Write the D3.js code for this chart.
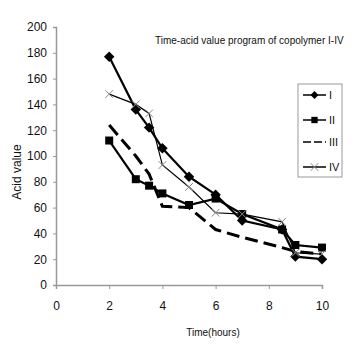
<!DOCTYPE html>
<html>
  <head>
    <meta charset="UTF-8">
    <title>Acid value</title>
    <style>
      body { margin: 0; background: #fff; }
      text { font-family: "Liberation Sans Narrow", "Liberation Sans", Arial, sans-serif; fill: #111; }
    </style>
  </head>
  <body>
    <div id="chart"></div>
    <script src="https://d3js.org/d3.v7.min.js"></script>
    <script>
      // time points (hours) and acid values
      let hours = [2, 3, 3.5, 4, 5, 6, 7, 8.5, 9, 10];
      let seriesI   = [177, 136, 122, 106, 84, 70, 50, 43, 22, 20];
      let seriesII  = [112, 82, 77, 71, 62, 67, 55, 43, 31, 29];
      let seriesIII = [124, 100, 86, 61, 60, 43, 37, 29, 26, 24];
      let seriesIV  = [148, 140, 133, 93, 76, 56, 55, 49, 25, 24];
      let names = ["I", "II", "III", "IV"];
      let xTicks = [0, 2, 4, 6, 8, 10];
      let yTicks = [0, 20, 40, 60, 80, 100, 120, 140, 160, 180, 200];

      let width = 364;
      let height = 360;
      let svg = d3.select("#chart").append("svg").attr("width", width).attr("height", height);

      let x = d3.scaleLinear().domain([0, 10]).range([56, 322]);
      let y = d3.scaleLinear().domain([0, 200]).range([285, 27]);

      // axes
      let yAxis = svg.append("g").attr("transform", "translate(56,0)")
        .call(d3.axisLeft(y).tickValues(yTicks).tickSize(3).tickPadding(6));
      let xAxis = svg.append("g").attr("transform", "translate(0,285)")
        .call(d3.axisBottom(x).tickValues(xTicks).tickSize(4).tickPadding(12));
      [xAxis, yAxis].forEach(function(a) {
        a.select(".domain").attr("stroke", "#999").attr("stroke-width", 1.5);
        a.selectAll(".tick line").attr("stroke", "#999");
        a.selectAll("text").style("font-size", "12px").attr("fill", "#111");
      });

      svg.append("text").attr("x", 213).attr("y", 336).attr("text-anchor", "middle")
        .style("font-size", "10px").text("Time(hours)");
      svg.append("text").attr("transform", "translate(21,172) rotate(-90)").attr("text-anchor", "middle")
        .style("font-size", "12px").text("Acid value");
      svg.append("text").attr("x", 155).attr("y", 44)
        .style("font-size", "10px").text("Time-acid value program of copolymer I-IV");

      let data = [seriesI, seriesII, seriesIII, seriesIV].map(function(vals, i) {
        return { name: names[i], points: vals.map(function(v, j) { return [hours[j], v]; }) };
      });
      let styles = [
        { width: 2.2, dash: null, marker: "diamond" },
        { width: 2.2, dash: null, marker: "square" },
        { width: 3, dash: "13,6", marker: null },
        { width: 1.2, dash: null, marker: "cross" }
      ];

      let line = d3.line().x(function(d) { return x(d[0]); }).y(function(d) { return y(d[1]); });

      function drawMarker(g, type, cx, cy, size) {
        if (type === "diamond") {
          g.append("path").attr("d", d3.symbol(d3.symbolDiamond2, size || 70)()).attr("transform", "translate(" + cx + "," + cy + ")").attr("fill", "#000");
        } else if (type === "square") {
          g.append("path").attr("d", d3.symbol(d3.symbolSquare, size || 64)()).attr("transform", "translate(" + cx + "," + cy + ")").attr("fill", "#000");
        } else if (type === "cross") {
          g.append("path").attr("d", d3.symbol(d3.symbolX, size || 40)()).attr("transform", "translate(" + cx + "," + cy + ")")
            .attr("fill", "none").attr("stroke", "#888").attr("stroke-width", 1);
        }
      }

      data.forEach(function(s, i) {
        let st = styles[i];
        let g = svg.append("g");
        g.append("path").datum(s.points).attr("d", line).attr("fill", "none")
          .attr("stroke", "#000").attr("stroke-width", st.width).attr("stroke-dasharray", st.dash);
        s.points.forEach(function(p) { drawMarker(g, st.marker, x(p[0]), y(p[1])); });
      });

      // legend
      let legend = svg.append("g");
      legend.append("rect").attr("x", 298).attr("y", 84).attr("width", 44).attr("height", 93)
        .attr("fill", "#fff").attr("stroke", "#999").attr("stroke-width", 1);
      data.forEach(function(s, i) {
        let ly = [95, 120, 142, 167][i];
        let st = styles[i];
        legend.append("line").attr("x1", 303).attr("x2", 326).attr("y1", ly).attr("y2", ly)
          .attr("stroke", "#000").attr("stroke-width", 1.5)
          .attr("stroke-dasharray", st.dash ? "8,3" : null);
        drawMarker(legend, st.marker, 314.5, ly, 40);
        legend.append("text").attr("x", 329).attr("y", ly + 4).style("font-size", "11px").text(s.name);
      });
    </script>
  </body>
</html>
